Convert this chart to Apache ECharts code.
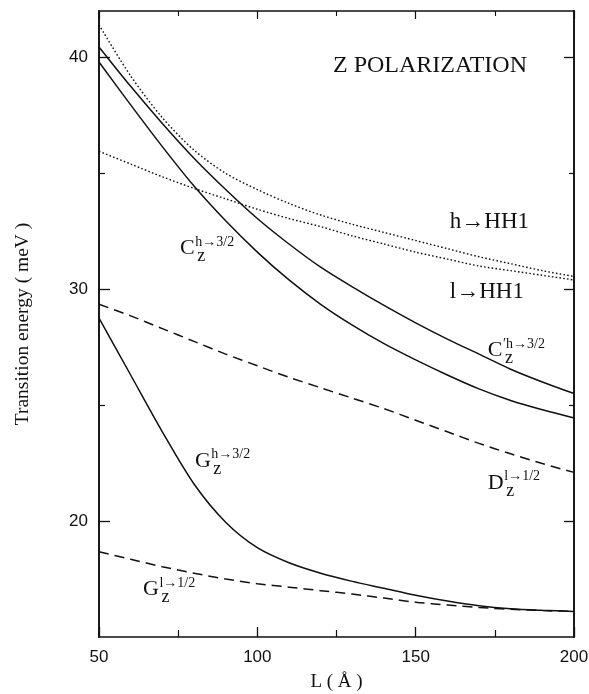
<!DOCTYPE html>
<html>
<head>
<meta charset="utf-8">
<script src="https://cdn.jsdelivr.net/npm/echarts@6/dist/echarts.min.js"></script>
<style>
  html, body { margin: 0; padding: 0; background: #fff; }
  #chart { width: 589px; height: 694px; }
</style>
</head>
<body>
<div id="chart"></div>
<script>
// Well width L (Å)
const wellWidth = [50, 60, 70, 80, 90, 100, 110, 120, 130, 140, 150, 160, 170, 180, 190, 200];

// Transition energies (meV)
const hToHH1  = [41.4, 39.2, 37.4, 36.0, 35.0, 34.3, 33.7, 33.2, 32.8, 32.45, 32.1, 31.75, 31.4, 31.1, 30.8, 30.55];
const lToHH1  = [35.95, 35.4, 34.85, 34.35, 33.9, 33.45, 33.05, 32.7, 32.3, 31.95, 31.6, 31.3, 31.0, 30.8, 30.6, 30.4];
const cPrimeZ = [40.45, 38.75, 37.15, 35.65, 34.3, 33.05, 31.95, 30.95, 30.1, 29.3, 28.55, 27.85, 27.2, 26.55, 26.0, 25.5];
const cZ      = [39.8, 37.95, 36.15, 34.45, 32.95, 31.6, 30.4, 29.35, 28.45, 27.65, 26.95, 26.3, 25.7, 25.2, 24.8, 24.45];
const dZ      = [29.35, 28.85, 28.3, 27.75, 27.2, 26.7, 26.2, 25.75, 25.3, 24.85, 24.35, 23.85, 23.35, 22.9, 22.48, 22.1];
const gHZ     = [28.75, 26.3, 23.85, 21.6, 19.95, 18.85, 18.2, 17.75, 17.4, 17.1, 16.8, 16.55, 16.35, 16.22, 16.15, 16.1];
const gLZ     = [18.68, 18.35, 18.03, 17.75, 17.5, 17.3, 17.15, 17.0, 16.85, 16.68, 16.5, 16.38, 16.27, 16.2, 16.14, 16.1];

// Axis ticks
const xTicks = [50, 100, 150, 200];
const yMajorTicks = [20, 30, 40];
const yMinorTicks = [25, 35];

// Curve annotations: [L, E] anchor, main letter, superscript, subscript
const curveLabels = [
  { at: [75.6, 31.75], main: 'C', sup: 'h\u21923/2', sub: 'z' },
  { at: [172.8, 27.35], main: 'C', sup: '\u2032h\u21923/2', sub: 'z' },
  { at: [80.3, 22.6], main: 'G', sup: 'h\u21923/2', sub: 'z' },
  { at: [172.8, 21.65], main: 'D', sup: 'l\u21921/2', sub: 'z' },
  { at: [63.9, 17.07], main: 'G', sup: 'l\u21921/2', sub: 'z' }
];
const plainLabels = [
  { at: [123.9, 39.66], text: 'Z POLARIZATION', size: 24 },
  { at: [160.8, 32.9], text: 'h\u2192HH1', size: 23 },
  { at: [160.8, 29.9], text: 'l\u2192HH1', size: 23 }
];

const SERIF = '"Liberation Serif", "Times New Roman", serif';
const SANS = '"Liberation Sans", Arial, sans-serif';
const INK = '#111';

const chart = echarts.init(document.getElementById('chart'), null, { renderer: 'canvas' });

function pairs(ys) { return wellWidth.map((x, i) => [x, ys[i]]); }

function curve(name, ys, kind) {
  const lineStyle = { color: INK, width: 1.5, type: 'solid' };
  if (kind === 'dotted') { lineStyle.type = [1.6, 2.2]; lineStyle.width = 1.4; }
  if (kind === 'dashed') { lineStyle.type = [10, 6]; lineStyle.width = 1.5; }
  return {
    name, type: 'line', data: pairs(ys), xAxisIndex: 0, yAxisIndex: 0,
    showSymbol: false, symbol: 'none', smooth: 0.3,
    lineStyle, silent: true, z: 3
  };
}

const yBase = { type: 'value', min: 15, max: 42, splitLine: { show: false },
  axisLine: { show: true, onZero: false, lineStyle: { color: INK, width: 1.6 } } };

chart.setOption({
  backgroundColor: '#fff',
  animation: false,
  grid: { left: 99, right: 15, top: 11, bottom: 57, containLabel: false, outerBoundsMode: 'none' },
  xAxis: [
    {
      type: 'value', position: 'bottom', min: 50, max: 200, interval: 50,
      name: 'L ( \u00C5 )', nameLocation: 'middle', nameGap: 36,
      nameTextStyle: { fontFamily: SERIF, fontSize: 19, color: INK },
      axisLine: { show: true, onZero: false, lineStyle: { color: INK, width: 1.6 } },
      axisTick: { show: true, inside: true, length: 10, lineStyle: { color: INK, width: 1.3 } },
      minorTick: { show: true, splitNumber: 2, length: 7, lineStyle: { color: INK, width: 1.2 } },
      axisLabel: { fontFamily: SANS, fontSize: 17, color: INK, margin: 12,
        customValues: xTicks },
      splitLine: { show: false }
    },
    {
      type: 'value', position: 'top', min: 50, max: 200, interval: 50,
      axisLine: { show: true, onZero: false, lineStyle: { color: INK, width: 1.6 } },
      axisTick: { show: true, inside: true, length: 8, lineStyle: { color: INK, width: 1.2 } },
      minorTick: { show: true, splitNumber: 2, length: 5, lineStyle: { color: INK, width: 1.1 } },
      axisLabel: { show: false }, splitLine: { show: false }
    }
  ],
  yAxis: [
    Object.assign({}, yBase, {
      position: 'left',
      name: 'Transition energy ( meV )', nameLocation: 'middle', nameGap: 66,
      nameTextStyle: { fontFamily: SERIF, fontSize: 19.5, color: INK },
      axisTick: { show: true, inside: true, length: 11, customValues: yMajorTicks,
        lineStyle: { color: INK, width: 1.3 } },
      axisLabel: { fontFamily: SANS, fontSize: 17, color: INK, margin: 11,
        customValues: yMajorTicks }
    }),
    Object.assign({}, yBase, {
      position: 'left',
      axisTick: { show: true, inside: true, length: 6, customValues: yMinorTicks,
        lineStyle: { color: INK, width: 1.2 } },
      axisLabel: { show: false }
    }),
    Object.assign({}, yBase, {
      position: 'right',
      axisTick: { show: true, inside: true, length: 10, customValues: yMajorTicks,
        lineStyle: { color: INK, width: 1.3 } },
      axisLabel: { show: false }
    }),
    Object.assign({}, yBase, {
      position: 'right',
      axisTick: { show: true, inside: true, length: 5, customValues: yMinorTicks,
        lineStyle: { color: INK, width: 1.2 } },
      axisLabel: { show: false }
    })
  ],
  series: [
    curve('h\u2192HH1', hToHH1, 'dotted'),
    curve('l\u2192HH1', lToHH1, 'dotted'),
    curve("C'z h\u21923/2", cPrimeZ, 'solid'),
    curve('Cz h\u21923/2', cZ, 'solid'),
    curve('Dz l\u21921/2', dZ, 'dashed'),
    curve('Gz h\u21923/2', gHZ, 'solid'),
    curve('Gz l\u21921/2', gLZ, 'dashed')
  ]
});

// Text annotations, placed through the axes' own scales
const measureCtx = document.createElement('canvas').getContext('2d');
function textWidth(text, font) { measureCtx.font = font; return measureCtx.measureText(text).width; }
function toPx(pt) { return chart.convertToPixel({ xAxisIndex: 0, yAxisIndex: 0 }, pt); }

function textEl(x, y, text, size) {
  return {
    type: 'text', x, y, silent: true, z: 10,
    style: { text, fill: INK, font: size + 'px ' + SERIF,
      textAlign: 'left', textVerticalAlign: 'middle', align: 'left', verticalAlign: 'middle' }
  };
}

const graphics = [];
plainLabels.forEach(l => {
  const p = toPx(l.at);
  graphics.push(textEl(p[0], p[1], l.text, l.size));
});
curveLabels.forEach(l => {
  const p = toPx(l.at);
  const mainSize = 22;
  const w = textWidth(l.main, mainSize + 'px ' + SERIF);
  graphics.push(textEl(p[0], p[1], l.main, mainSize));
  graphics.push(textEl(p[0] + w + 0.5, p[1] - 6, l.sup, 14));
  graphics.push(textEl(p[0] + w + 2.5, p[1] + 8, l.sub, 18));
});
chart.setOption({ graphic: graphics });
</script>
</body>
</html>
